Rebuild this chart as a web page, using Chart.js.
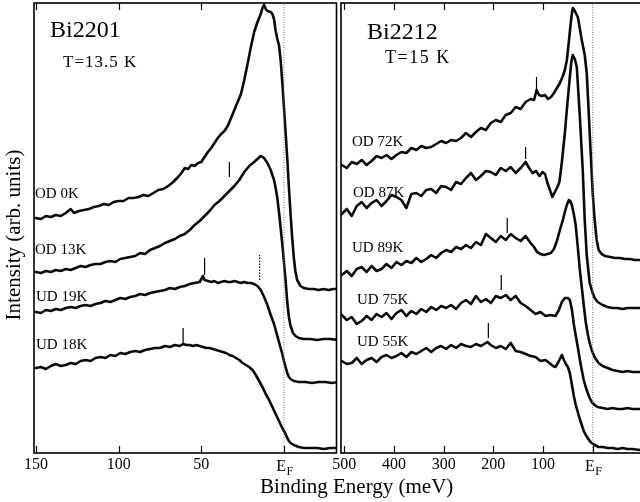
<!DOCTYPE html>
<html>
<head>
<meta charset="utf-8">
<script src="https://cdn.jsdelivr.net/npm/chart.js@4.4.1/dist/chart.umd.min.js"></script>
<style>
  html, body { margin: 0; padding: 0; background: #fff; width: 640px; height: 502px; overflow: hidden; }
  body { position: relative; font-family: "Liberation Serif", "Times New Roman", serif; color: #000; }
  canvas { position: absolute; top: 0; }
  #cvL { left: 0; }
  #cvR { left: 325px; }
  .lbl { position: absolute; white-space: nowrap; line-height: 1; }
</style>
</head>
<body>
<canvas id="cvL" width="340" height="502"></canvas>
<canvas id="cvR" width="345" height="502"></canvas>

<div class="lbl" style="left:50px;top:17px;font-size:24px">Bi2201</div>
<div class="lbl" style="left:63px;top:53px;font-size:17px;letter-spacing:1px">T=13.5 K</div>
<div class="lbl" style="left:367px;top:19px;font-size:24px">Bi2212</div>
<div class="lbl" style="left:385px;top:47.5px;font-size:18px;letter-spacing:1.5px">T=15 K</div>

<div class="lbl" style="left:35px;top:186.4px;font-size:15px">OD 0K</div>
<div class="lbl" style="left:35px;top:242.4px;font-size:15px">OD 13K</div>
<div class="lbl" style="left:36px;top:288.9px;font-size:15px">UD 19K</div>
<div class="lbl" style="left:36px;top:337.4px;font-size:15px">UD 18K</div>

<div class="lbl" style="left:352px;top:133.9px;font-size:15px">OD 72K</div>
<div class="lbl" style="left:353px;top:185.4px;font-size:15px">OD 87K</div>
<div class="lbl" style="left:352px;top:240.4px;font-size:15px">UD 89K</div>
<div class="lbl" style="left:357px;top:292.4px;font-size:15px">UD 75K</div>
<div class="lbl" style="left:357px;top:334.4px;font-size:15px">UD 55K</div>

<div class="lbl" style="left:356.7px;top:475.9px;font-size:21px;transform:translateX(-50%)">Binding Energy (meV)</div>
<div class="lbl" style="left:13.4px;top:234.5px;font-size:21px;transform:translate(-50%,-50%) rotate(-90deg)">Intensity (arb. units)</div>

<script>
// Bi2201, T=13.5 K : [binding energy (meV), intensity (arb. units)]
const od0k = [[152,234],[150,234],[147,233],[144,236],[141,235],[138,237],[135,236],[132,239],[129,243],[127,239],[124,241],[121,242],[118,243],[115,245],[112,246],[109,248],[106,247],[103,250],[100,251],[97,251],[94,254],[91,254],[88,255],[85,257],[82,256],[79,259],[76,262],[73,263],[70,266],[67,270],[64,275],[62,279],[60,284],[58,283],[56,287],[54,286],[52,289],[50,290],[48,295],[46,300],[44,304],[42,309],[40,314],[38,318],[36,321],[34,326],[32,334],[30,342],[28,350],[26,358],[24,372],[22,388],[20,405],[18,420],[16,430],[14,438],[13,444],[12,447],[11,443],[10,441],[8,440],[7,438],[6,433],[5,421],[4,413],[3,407],[2,392],[1,370],[0,345],[-1,320],[-2,294],[-3,265],[-4,238],[-5,214],[-6,194],[-7,180],[-8,172],[-10,166],[-12,164],[-15,163],[-18,163],[-21,162],[-24,163],[-27,162],[-30,163],[-33,163]];
const od13k = [[152,180],[150,180],[147,179],[144,181],[141,180],[138,182],[135,181],[132,183],[129,182],[126,184],[123,186],[120,185],[117,187],[114,188],[111,188],[108,190],[105,191],[102,190],[99,193],[96,194],[93,195],[90,196],[87,199],[84,198],[81,202],[78,204],[75,206],[72,209],[69,211],[66,213],[63,216],[60,218],[57,222],[54,227],[51,231],[48,236],[45,241],[42,247],[39,251],[36,256],[33,261],[30,266],[27,272],[24,280],[21,286],[18,290],[16,293],[14,296],[12,294],[10,289],[8,282],[6,272],[5,264],[4,254],[3,240],[2,224],[1,208],[0,190],[-1,172],[-2,150],[-3,135],[-4,126],[-5.5,119],[-7,116],[-9,114],[-12,113],[-16,113],[-20,112],[-24,113],[-28,113],[-33,112]];
const ud19k = [[152,140],[150,140],[147,139],[144,142],[141,141],[138,143],[135,142],[132,144],[129,145],[126,144],[123,146],[120,147],[117,146],[114,148],[111,149],[108,151],[105,150],[102,152],[99,154],[96,153],[93,155],[90,156],[87,158],[84,157],[81,159],[78,160],[75,161],[72,162],[69,164],[66,163],[63,165],[60,166],[57,168],[54,169],[51,170],[49,176],[48,172],[46,171],[44,170],[42,171],[40,169],[38,170],[36,171],[34,170],[32,170],[30,171],[28,170],[26,169],[24,170],[22,169],[20,169],[18,168],[16,166],[14,162],[12,155],[10,147],[8,137],[6,128],[4,116],[2,104],[1,98],[0,91],[-1,85],[-2,79],[-3,75],[-4,73],[-6,71],[-9,70],[-13,70],[-17,69],[-21,70],[-25,70],[-29,69],[-33,70]];
const ud18k = [[152,84],[150,84],[147,85],[144,83],[141,86],[138,88],[135,86],[132,87],[129,89],[126,88],[123,91],[120,92],[117,91],[114,94],[111,95],[108,94],[105,97],[102,96],[99,99],[96,98],[93,100],[90,101],[87,100],[84,102],[81,103],[78,104],[75,104],[72,106],[69,105],[66,107],[63,106],[61,108],[59,107],[57,107],[55,106],[53,107],[51,106],[49,105],[47,104],[45,104],[43,103],[41,102],[39,101],[37,100],[35,99],[33,97],[31,96],[29,94],[27,92],[25,89],[23,87],[21,85],[19,82],[17,77],[15,71],[13,65],[11,58],[9,52],[7,45],[5,38],[3,31],[1,24],[0,21],[-1,18],[-2,14],[-3,11],[-4,9],[-6,7],[-9,5],[-12,4],[-16,4],[-20,4],[-24,3],[-28,4],[-33,4]];

// Bi2212, T=15 K
const od72k = [[507,287],[505,287],[495,284],[485,290],[475,288],[465,292],[455,287],[445,291],[435,296],[425,294],[415,297],[405,293],[395,297],[385,300],[375,299],[365,304],[355,302],[345,306],[335,304],[325,305],[315,308],[305,311],[295,309],[285,312],[275,311],[265,314],[255,319],[245,315],[235,320],[225,324],[215,322],[205,329],[195,332],[185,330],[175,337],[165,339],[155,345],[145,343],[135,350],[125,353],[118,352],[113,362],[108,357],[102,356],[96,357],[90,353],[84,355],[78,359],[72,364],[66,369],[60,376],[56,382],[52,392],[48,410],[45,425],[42,438],[40,444],[37,442],[34,439],[30,435],[26,424],[22,412],[16,397],[12,379],[9,350],[6,319],[3,289],[0,259],[-4,232],[-8,212],[-12,202],[-18,198],[-25,196],[-35,195],[-45,194],[-55,194],[-65,193],[-75,193],[-85,192],[-95,192],[-110,193],[-136,192]];
const od87k = [[507,238],[505,238],[495,243],[485,236],[475,246],[465,250],[455,244],[445,249],[435,252],[425,246],[415,251],[405,257],[395,255],[385,252],[375,244],[365,258],[355,259],[345,256],[335,262],[325,263],[315,259],[305,266],[295,265],[285,262],[275,270],[265,268],[255,274],[245,279],[235,272],[225,276],[215,281],[205,280],[195,277],[185,284],[175,281],[165,285],[155,279],[145,284],[135,290],[128,284],[121,279],[114,281],[107,276],[101,280],[96,278],[91,269],[86,262],[81,255],[76,260],[71,265],[67,270],[62,290],[56,319],[51,348],[46,375],[43,390],[40,397],[36,393],[32,385],[26,337],[20,282],[16,232],[12,197],[6,169],[0,159],[-4,154],[-10,150],[-20,147],[-30,145],[-40,144],[-50,144],[-60,143],[-70,144],[-80,144],[-95,144],[-110,143],[-136,144]];
const ud89k = [[507,177],[505,177],[495,181],[485,176],[475,183],[465,185],[455,180],[445,186],[435,181],[425,183],[415,188],[405,184],[395,190],[385,187],[375,191],[365,189],[355,194],[345,190],[335,193],[325,197],[315,194],[305,199],[295,202],[285,200],[275,205],[265,203],[255,207],[245,204],[235,210],[225,207],[215,218],[205,214],[195,210],[185,216],[175,212],[165,218],[155,214],[145,211],[135,216],[125,209],[118,205],[112,200],[105,198],[98,197],[91,198],[84,199],[78,203],[72,211],[66,222],[60,232],[56,240],[52,247],[48,252],[45,251],[42,247],[38,238],[34,226],[30,205],[26,183],[22,165],[18,147],[14,130],[10,118],[6,109],[2,102],[-2,97],[-6,93],[-12,89],[-20,86],[-30,84],[-40,82],[-50,81],[-60,80],[-70,81],[-80,80],[-95,80],[-110,81],[-136,80]];
const ud75k = [[507,137],[505,137],[495,132],[485,135],[475,128],[465,131],[455,136],[445,132],[435,138],[425,135],[415,139],[405,133],[395,139],[385,142],[375,136],[365,141],[355,138],[345,143],[335,140],[325,145],[315,142],[305,146],[295,144],[285,147],[275,143],[265,149],[255,152],[245,148],[235,156],[225,150],[215,153],[205,149],[195,156],[185,154],[175,157],[165,152],[155,156],[145,149],[135,146],[125,142],[115,138],[105,140],[95,136],[85,137],[75,136],[68,142],[62,150],[56,154],[50,154],[46,152],[42,143],[38,128],[34,116],[30,105],[26,93],[22,82],[18,72],[14,65],[10,59],[6,54],[2,50],[-4,47],[-10,45],[-20,44],[-30,43],[-40,44],[-50,43],[-60,43],[-70,44],[-80,43],[-95,43],[-110,44],[-136,43]];
const ud55k = [[507,91],[505,91],[495,88],[485,89],[475,94],[465,88],[455,92],[445,94],[435,90],[425,95],[415,97],[405,94],[395,96],[385,99],[375,95],[365,100],[355,98],[345,101],[335,104],[325,100],[315,104],[305,106],[295,103],[285,107],[275,104],[265,108],[255,106],[245,105],[235,108],[225,106],[212,110],[205,107],[195,104],[185,106],[175,103],[165,109],[155,101],[145,100],[135,98],[125,96],[115,95],[105,91],[95,92],[87,89],[80,86],[75,85],[70,89],[66,93],[62,97],[58,92],[54,88],[50,85],[46,79],[42,68],[38,56],[34,47],[30,40],[26,33],[22,27],[18,21],[14,17],[10,14],[6,11],[2,9],[-4,7],[-12,5],[-20,5],[-30,4],[-40,4],[-50,3],[-60,4],[-70,3],[-80,3],[-95,2],[-110,3],[-136,2]];

// feature markers: [energy, intensity from, intensity to]
const marks2201 = [[33, 275, 290], [48, 177, 194], [61, 109, 124]];
const dotMarks2201 = [[14.7, 172, 197]];
const marks2212 = [[113, 362, 375], [135, 293, 305], [172, 219, 234], [184, 162, 177], [210, 114, 129]];

const ticks2201 = [150, 100, 50, 0];
const ticks2212 = [500, 400, 300, 200, 100, 0];
const range2201 = [-31.8, 151.2];
const range2212 = [-135.5, 506.6];
const yRange = [-1, 449];

const toPts = arr => arr.map(([x, y]) => ({ x, y }));

function curve(arr) {
  return { data: toPts(arr), borderColor: "#0a0a0a", borderWidth: 2.6, borderJoinStyle: "round", borderCapStyle: "round" };
}
function marker(m, dashed) {
  return { data: [{ x: m[0], y: m[1] }, { x: m[0], y: m[2] }], borderColor: "#000", borderWidth: 1.2, borderDash: dashed ? [1.5, 1.5] : [] };
}
function efLine() {
  return { data: [{ x: 0, y: yRange[0] }, { x: 0, y: yRange[1] }], borderColor: "#777", borderWidth: 1, borderDash: [1, 1.5] };
}

// frame, inward ticks and the E_F tick label
const framePlugin = {
  id: "frame",
  afterDatasetsDraw(chart) {
    const { ctx, chartArea: a, scales: { x } } = chart;
    ctx.save();
    ctx.strokeStyle = "#000";
    ctx.lineWidth = 1.6;
    ctx.strokeRect(a.left, a.top, a.right - a.left, a.bottom - a.top);
    ctx.lineWidth = 1.2;
    x.ticks.forEach(t => {
      const px = Math.round(x.getPixelForValue(t.value)) + 0.5;
      ctx.beginPath();
      ctx.moveTo(px, a.bottom);
      ctx.lineTo(px, a.bottom - 7);
      if (t.value !== 0) {
        ctx.moveTo(px, a.top);
        ctx.lineTo(px, a.top + 7);
      }
      ctx.stroke();
    });
    const p0 = x.getPixelForValue(0);
    ctx.fillStyle = "#000";
    ctx.textBaseline = "alphabetic";
    ctx.font = '16px "Liberation Serif"';
    ctx.textAlign = "right";
    ctx.fillText("E", p0 + 2, 470.5);
    ctx.font = '12px "Liberation Serif"';
    ctx.textAlign = "left";
    ctx.fillText("F", p0 + 2.5, 474.5);
    ctx.restore();
  }
};

function makeChart(id, curves, marks, dotMarks, tickVals, range, pad) {
  const datasets = [efLine()];
  curves.forEach(c => datasets.push(curve(c)));
  marks.forEach(m => datasets.push(marker(m, false)));
  dotMarks.forEach(m => datasets.push(marker(m, true)));
  return new Chart(document.getElementById(id), {
    type: "line",
    data: { datasets },
    options: {
      responsive: false,
      animation: false,
      devicePixelRatio: 1,
      layout: { padding: pad },
      elements: { point: { radius: 0 }, line: { tension: 0 } },
      plugins: { legend: { display: false }, tooltip: { enabled: false } },
      scales: {
        x: {
          type: "linear",
          reverse: true,
          min: range[0],
          max: range[1],
          afterBuildTicks: s => { s.ticks = tickVals.map(v => ({ value: v })); },
          afterFit: s => { s.height = 49; s.paddingLeft = 0; s.paddingRight = 0; },
          grid: { display: false, drawTicks: false },
          border: { display: false },
          ticks: {
            padding: 2,
            color: "#000",
            font: { family: "Liberation Serif", size: 16 },
            maxRotation: 0,
            autoSkip: false,
            callback: v => (v === 0 ? "" : String(v))
          }
        },
        y: { type: "linear", display: false, min: yRange[0], max: yRange[1] }
      }
    },
    plugins: [framePlugin]
  });
}

makeChart("cvL", [od0k, od13k, ud19k, ud18k], marks2201, dotMarks2201, ticks2201, range2201,
  { left: 34, right: 3.5, top: 3, bottom: 0 });
makeChart("cvR", [od72k, od87k, ud89k, ud75k, ud55k], marks2212, [], ticks2212, range2212,
  { left: 16, right: 10, top: 3, bottom: 0 });
</script>
</body>
</html>
